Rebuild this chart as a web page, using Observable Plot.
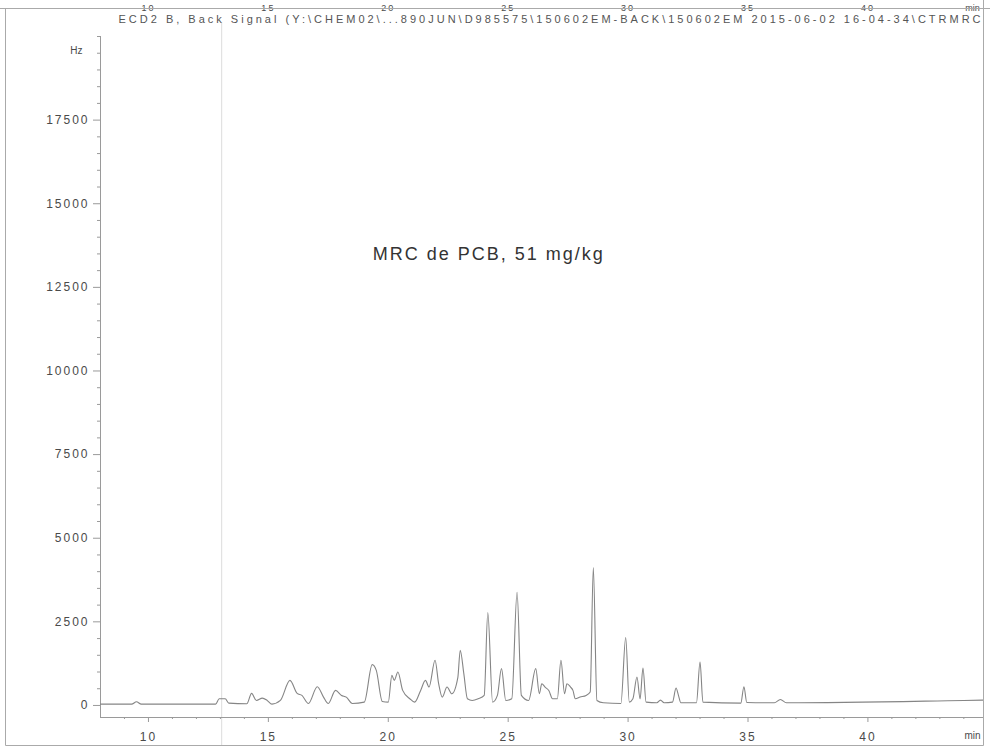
<!DOCTYPE html>
<html><head><meta charset="utf-8">
<script src="https://cdn.jsdelivr.net/npm/d3@7"></script>
<script src="https://cdn.jsdelivr.net/npm/@observablehq/plot@0.6"></script>
<style>
body{margin:0;background:#fff;}
#chart svg{display:block;}
.hdr text{letter-spacing:3px;}
.ann text{letter-spacing:2px;}
.tk text{letter-spacing:2px;}
</style></head><body><div id="chart"></div>
<script>
// Retention time (min)
const time = [8.0, 9.3, 9.5, 9.7, 12.8, 12.95, 13.2, 13.35, 14.1, 14.3, 14.5, 14.75, 14.95, 15.15, 15.5, 15.9, 16.2, 16.4, 16.67, 17.04, 17.3, 17.5, 17.8, 18.05, 18.25, 18.5, 19.0, 19.33, 19.5, 19.75, 20.0, 20.15, 20.25, 20.4, 20.6, 20.9, 21.1, 21.35, 21.55, 21.7, 21.95, 22.1, 22.25, 22.45, 22.65, 22.9, 23.0, 23.15, 23.3, 23.5, 23.75, 24.0, 24.15, 24.35, 24.55, 24.72, 24.9, 25.15, 25.37, 25.55, 25.85, 26.15, 26.3, 26.4, 26.55, 26.7, 26.85, 27.05, 27.2, 27.35, 27.45, 27.6, 27.7, 27.8, 28.0, 28.25, 28.42, 28.55, 28.7, 28.97, 29.7, 29.9, 30.05, 30.2, 30.37, 30.5, 30.62, 30.75, 31.2, 31.35, 31.5, 31.85, 32.0, 32.1, 32.2, 32.85, 33.0, 33.12, 34.7, 34.83, 34.95, 36.1, 36.35, 36.6, 44.0, 44.82];
// ECD signal (Hz)
const signal = [40, 40, 110, 40, 40, 200, 200, 70, 50, 360, 150, 220, 150, 40, 150, 750, 360, 300, 60, 560, 250, 60, 450, 300, 250, 60, 100, 1220, 1050, 120, 100, 900, 750, 1000, 450, 200, 100, 450, 750, 550, 1350, 650, 250, 550, 350, 830, 1650, 950, 200, 150, 200, 300, 2780, 100, 300, 1100, 150, 200, 3380, 300, 150, 1100, 350, 650, 540, 440, 200, 200, 1350, 350, 650, 550, 450, 200, 250, 300, 400, 4120, 150, 80, 60, 2030, 100, 200, 850, 200, 1120, 100, 80, 160, 80, 100, 520, 300, 80, 80, 1300, 100, 70, 560, 90, 80, 180, 80, 150, 160];

const xMajorTicks = [10, 15, 20, 25, 30, 35, 40];
const xMinorTicks = [9, 11, 12, 13, 14, 16, 17, 18, 19, 21, 22, 23, 24, 26, 27, 28, 29, 31, 32, 33, 34, 36, 37, 38, 39, 41, 42, 43, 44];
const yMajorTicks = [0, 2500, 5000, 7500, 10000, 12500, 15000, 17500];
const yMinorTicks = [500, 1000, 1500, 2000, 3000, 3500, 4000, 4500, 5500, 6000, 6500, 7000, 8000, 8500, 9000, 9500, 10500, 11000, 11500, 12000, 13000, 13500, 14000, 14500, 15500, 16000, 16500, 17000, 18000, 18500, 19000, 19500, 20000];
const xDomain = [8, 44.82];
const yDomain = [-360, 20000];

const headerText = "ECD2 B, Back Signal (Y:\\CHEM02\\...890JUN\\D985575\\150602EM-BACK\\150602EM 2015-06-02 16-04-34\\CTRMRC";
const annotationText = ["MRC de PCB, 51 mg/kg"];
const annotationTime = [19.35];
const annotationSignal = [13500];
const unitY = ["Hz"];
const unitX = ["min"];
const artifactTime = [13.05];

const data = time.map((t, i) => ({t, v: signal[i]}));
const ann = annotationText.map((s, i) => ({s, t: annotationTime[i], v: annotationSignal[i]}));

const grey = "#9a9a9a";
const ink = "#4a4a4a";
const chart = Plot.plot({
  width: 990, height: 749,
  marginLeft: 100, marginRight: 7, marginTop: 36, marginBottom: 32,
  style: {fontFamily: "'Liberation Sans', Arial, sans-serif", fontSize: "12px", color: ink, background: "white", overflow: "hidden"},
  x: {domain: xDomain},
  y: {domain: yDomain},
  marks: [
    Plot.ruleX(artifactTime, {stroke: "#e2e2e2", strokeWidth: 1.2, insetTop: -14, insetBottom: -28}),
    Plot.ruleX([xDomain[0]], {stroke: grey}),
    Plot.ruleY([yDomain[0]], {stroke: grey}),
    Plot.axisY(yMajorTicks, {tickSize: 7, tickPadding: 4, stroke: grey, fill: ink, tickFormat: d => String(d), label: null, className: "tk"}),
    Plot.axisY(yMinorTicks, {tickSize: 3, stroke: grey, tickFormat: () => "", label: null}),
    Plot.axisX(xMajorTicks, {tickSize: 5, tickPadding: 10, stroke: grey, fill: ink, tickFormat: d => String(d), label: null, className: "tk"}),
    Plot.axisX(xMinorTicks, {tickSize: 2, stroke: grey, tickFormat: () => "", label: null}),
    Plot.text(xMajorTicks, {x: d => d, frameAnchor: "top", dy: -31.5, text: d => String(d), fill: ink, fontSize: 9, className: "tk"}),
    Plot.text(unitX, {frameAnchor: "top-right", dx: -11, dy: -31.5, text: d => d, fill: ink, fontSize: 9, textAnchor: "middle"}),
    Plot.text(unitX, {frameAnchor: "bottom-right", dx: -11, dy: 21, text: d => d, fill: ink, fontSize: 10, textAnchor: "middle"}),
    Plot.text(unitY, {frameAnchor: "top-left", dx: -18, dy: 10, text: d => d, fill: ink, textAnchor: "end", fontSize: 10}),
    Plot.text([headerText], {frameAnchor: "top-left", dx: 18, dy: -21, text: d => d, textAnchor: "start", fill: "#555", fontSize: 11, className: "hdr"}),
    Plot.line(data, {x: "t", y: "v", stroke: "#858585", strokeWidth: 1.1, curve: "monotone-x"}),
    Plot.text(ann, {x: "t", y: "v", text: "s", textAnchor: "start", fontSize: 18, fill: "#333", className: "ann"})
  ]
});
document.getElementById("chart").append(chart);

// scanned page frame lines
const svg = d3.select(chart);
const border = [[[0, 8.5], [990, 8.5]], [[5.5, 8.5], [5.5, 745.5]], [[5.5, 745.5], [983.5, 745.5]], [[983.5, 0], [983.5, 745.5]]];
svg.append("g").attr("stroke", "#aaa").attr("fill", "none")
  .selectAll("path").data(border).join("path").attr("d", d => d3.line()(d));
</script>
</body></html>
